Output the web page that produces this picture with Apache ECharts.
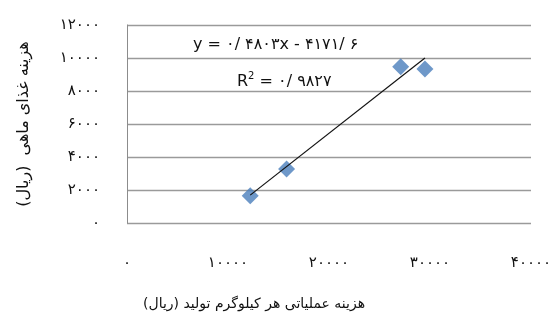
<!DOCTYPE html>
<html>
<head>
<meta charset="utf-8">
<script src="https://cdn.jsdelivr.net/npm/echarts@6/dist/echarts.min.js"></script>
<style>
  html, body { margin: 0; padding: 0; background: #fff; }
  #chart { width: 548px; height: 320px; }
</style>
</head>
<body>
<div id="chart"></div>
<script>
// هزینه عملیاتی (x) و هزینه غذای ماهی (y)
let costX = [12200, 15800, 27100, 29500]
let feedY = [1650, 3270, 9470, 9330]

// ضرایب خط روند
let slope = 0.4803
let intercept = -4171.6

let xTicks = [0, 10000, 20000, 30000, 40000]
let yTicks = [0, 2000, 4000, 6000, 8000, 10000, 12000]

const FA = '۰۱۲۳۴۵۶۷۸۹'
function toFa(v) {
  return String(v).replace(/[0-9]/g, d => FA[d])
}

let chart = echarts.init(document.getElementById('chart'))

let points = costX.map((x, i) => [x, feedY[i]])
let xMin = Math.min(...costX), xMax = Math.max(...costX)
let trend = [[xMin, slope * xMin + intercept], [xMax, slope * xMax + intercept]]

let font = 'DejaVu Sans'

let option = {
  animation: false,
  grid: { left: 127, right: 17, top: 25, bottom: 97, containLabel: false, outerBoundsMode: 'none' },
  xAxis: {
    type: 'value',
    min: xTicks[0],
    max: xTicks[xTicks.length - 1],
    interval: 10000,
    axisLine: { show: false },
    axisTick: { show: false },
    splitLine: { show: false },
    axisLabel: {
      margin: 33,
      color: '#111',
      fontFamily: font,
      fontSize: 15,
      formatter: v => toFa(v)
    }
  },
  yAxis: {
    type: 'value',
    min: yTicks[0],
    max: yTicks[yTicks.length - 1],
    interval: 2000,
    name: 'هزینه غذای ماهی  (ریال)',
    nameLocation: 'middle',
    nameGap: 95,
    nameTextStyle: { color: '#111', fontFamily: font, fontSize: 16 },
    axisLine: { show: true, lineStyle: { color: '#8c8c8c', width: 1 } },
    axisTick: { show: false },
    splitLine: { show: true, lineStyle: { color: '#9a9a9a', width: 1.3 } },
    axisLabel: {
      margin: 27,
      color: '#111',
      fontFamily: font,
      fontSize: 15,
      formatter: v => toFa(v)
    }
  },
  graphic: [
    {
      type: 'text',
      left: 143,
      top: 297,
      style: {
        text: 'هزینه عملیاتی هر کیلوگرم تولید (ریال)',
        fill: '#111',
        font: '14px "DejaVu Sans"'
      }
    },
    {
      type: 'text',
      left: 193,
      top: 37,
      style: {
        text: 'y = ۰/ ۴۸۰۳x - ۴۱۷۱/ ۶',
        fill: '#111',
        font: '16px "DejaVu Sans"'
      }
    },
    {
      type: 'text',
      left: 237,
      top: 71,
      style: {
        text: '{r|R}{s|2}{r| = ۰/ ۹۸۲۷}',
        rich: {
          r: { fill: '#111', fontFamily: font, fontSize: 16, verticalAlign: 'bottom' },
          s: { fill: '#111', fontFamily: font, fontSize: 10, verticalAlign: 'top', padding: [0, 0, 9, 0] }
        }
      }
    }
  ],
  series: [
    {
      type: 'line',
      data: trend,
      symbol: 'none',
      lineStyle: { color: '#111', width: 1.2 },
      z: 3
    },
    {
      type: 'scatter',
      data: points,
      symbol: 'diamond',
      symbolSize: 17,
      itemStyle: { color: '#4a7ebb' },
      z: 2
    }
  ]
};

chart.setOption(option);
</script>
</body>
</html>
